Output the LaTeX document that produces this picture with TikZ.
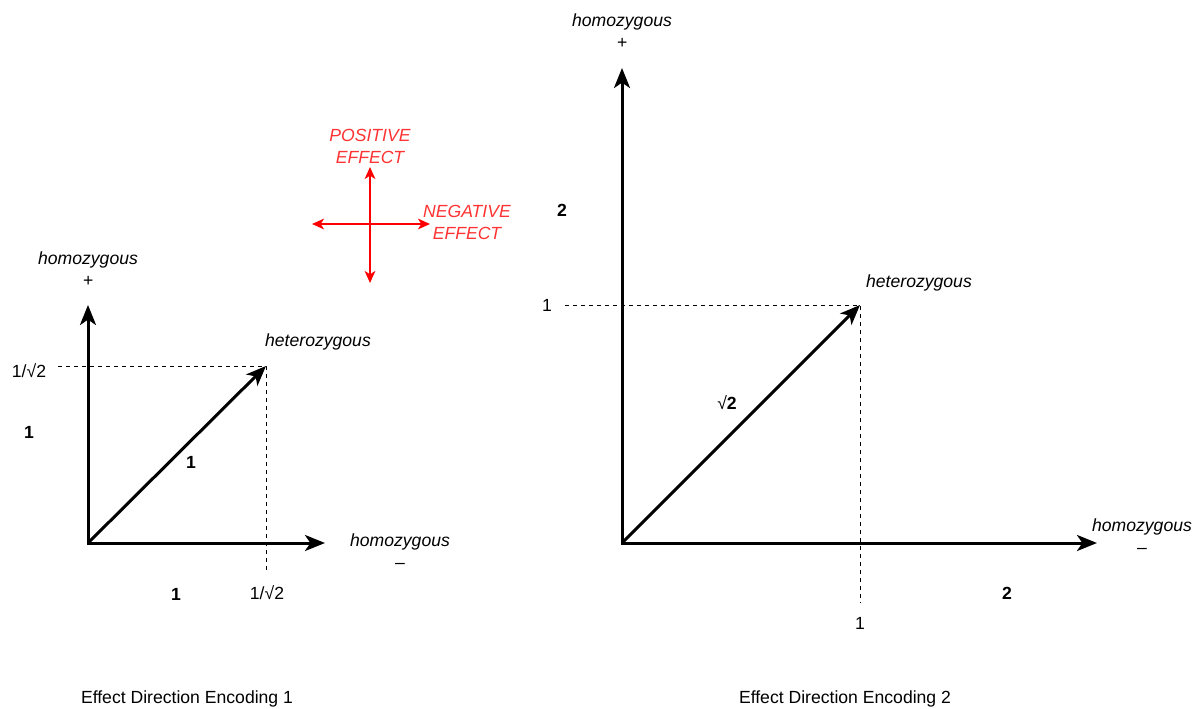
\documentclass[tikz,border=0pt]{standalone}
\usepackage{fontspec}
\setmainfont{Liberation Sans}
\usetikzlibrary{arrows.meta}
\definecolor{effecttext}{RGB}{255,51,51}
\definecolor{effectline}{RGB}{255,0,0}
\begin{document}
\begin{tikzpicture}[x=0.75pt,y=-0.75pt,
  every node/.style={font=\fontsize{13.2}{16.5}\selectfont, inner sep=0pt, align=center},
  lbl/.style={font=\fontsize{13.2}{16.5}\selectfont\itshape},
  bnum/.style={font=\fontsize{13.2}{16.5}\selectfont\bfseries},
  redlbl/.style={font=\fontsize{13.2}{16.5}\selectfont\itshape, text=effecttext},
  axes/.style={line width=2.25pt, line join=miter,
    {Stealth[length=15pt,width=12pt,inset=4pt]}-{Stealth[length=15pt,width=12pt,inset=4pt]}},
  vec/.style={line width=2.25pt, -{Stealth[length=15pt,width=12pt,inset=4pt]}},
  guide/.style={line width=0.75pt, dash pattern=on 3pt off 3pt},
  cross/.style={line width=1.5pt, draw=effectline,
    {Stealth[length=9pt,width=8pt,inset=2.5pt]}-{Stealth[length=9pt,width=8pt,inset=2.5pt]}}
]
\useasboundingbox (0,0) rectangle (1199,709);

% ---------- encoding 1 ----------
\coordinate (o1) at (88,543);
\coordinate (ya1) at (88,305);
\coordinate (xa1) at (325,543);
\coordinate (h1) at (266,366);
\coordinate (gl1) at (58,366);
\coordinate (gb1) at (266,573);

\draw[guide] (gl1) -- (h1) -- (gb1);
\draw[axes] (ya1) -- (o1) -- (xa1);
\draw[vec] (o1) -- (h1);

\node[lbl] (hp1) at (88,269) {homozygous\\+};
\node[lbl] (hm1) at (400,551) {homozygous\\–};
\node[lbl] (het1) at (318,342) {heterozygous};
\node (ly1) at (29,371) {1/√2};
\node (lx1) at (267,593) {1/√2};
\node[bnum] (uy1) at (29,432) {1};
\node[bnum] (ux1) at (176,594) {1};
\node[bnum] (ud1) at (191,462) {1};
\node (cap1) at (187,699) {Effect Direction Encoding 1};

% ---------- effect direction legend ----------
\coordinate (ct) at (370,167);
\coordinate (cb) at (370,283);
\coordinate (cl) at (312,224);
\coordinate (cr) at (430,224);
\draw[cross] (ct) -- (cb);
\draw[cross] (cl) -- (cr);
\node[redlbl] (pos) at (370,146) {POSITIVE\\EFFECT};
\node[redlbl] (neg) at (467,222) {NEGATIVE\\EFFECT};

% ---------- encoding 2 ----------
\coordinate (o2) at (622,543);
\coordinate (ya2) at (622,68);
\coordinate (xa2) at (1097,543);
\coordinate (h2) at (860,305);
\coordinate (gl2) at (565,305);
\coordinate (gb2) at (860,603);

\draw[guide] (gl2) -- (h2) -- (gb2);
\draw[axes] (ya2) -- (o2) -- (xa2);
\draw[vec] (o2) -- (h2);

\node[lbl] (hp2) at (622,31) {homozygous\\+};
\node[lbl] (hm2) at (1142,536) {homozygous\\–};
\node[lbl] (het2) at (919,283) {heterozygous};
\node (ly2) at (547,305) {1};
\node (lx2) at (860,623) {1};
\node[bnum] (uy2) at (562,210) {2};
\node[bnum] (ux2) at (1007,593) {2};
\node (ud2) at (727,403) {√\textbf{2}};
\node (cap2) at (845,699) {Effect Direction Encoding 2};
\end{tikzpicture}
\end{document}
